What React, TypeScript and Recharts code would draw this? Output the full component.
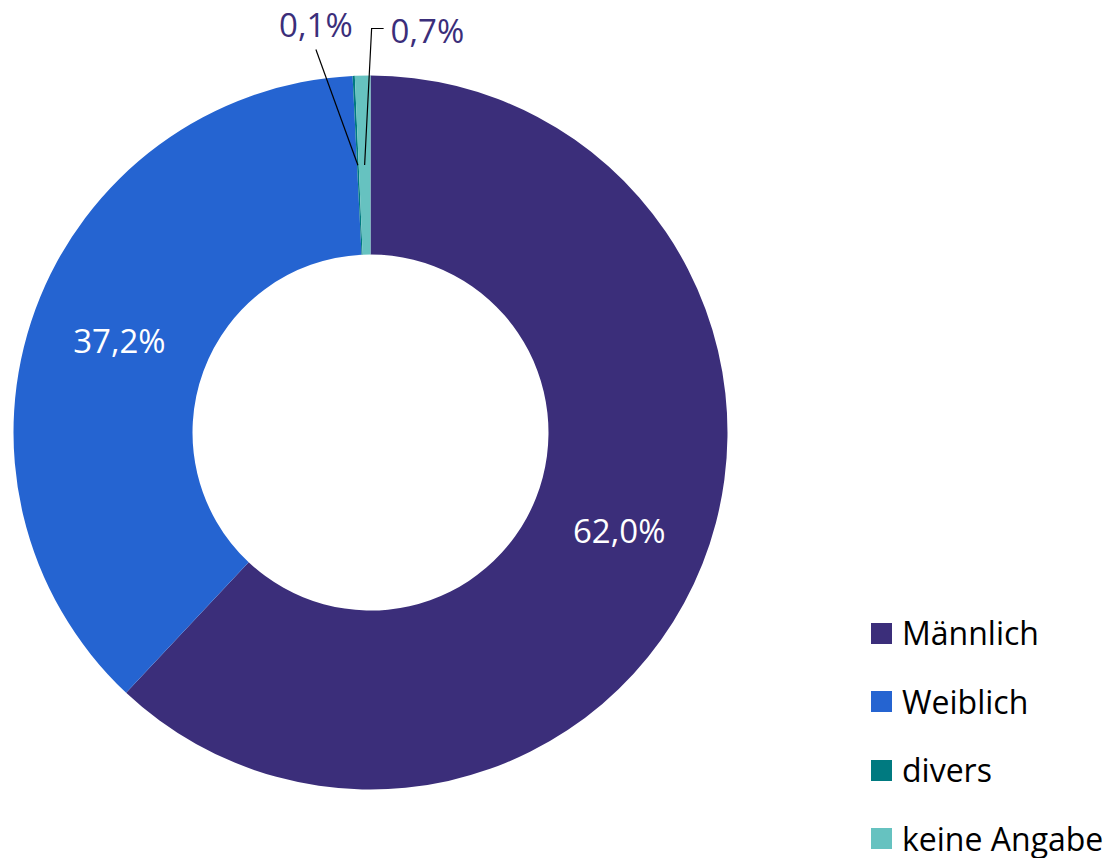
import { PieChart, Pie, Cell, Legend } from 'recharts';

const categories = ['Männlich', 'Weiblich', 'divers', 'keine Angabe'];
const shares = [62.0, 37.2, 0.1, 0.7];
const COLORS = ['#3B2E7A', '#2564D1', '#007A80', '#66C2C0'];

const FONT = '"Open Sans", sans-serif';
const LABEL_COLOR = '#3B2E7A';
const LABEL_SIZE = 33;

const chartData = categories.map((name, i) => ({ name, value: shares[i] }));

const formatShare = (v: number) => `${v.toFixed(1).replace('.', ',')}%`;

const RADIAN = Math.PI / 180;

const renderLabel = ({ cx, cy, midAngle, innerRadius, outerRadius, index, value }: any) => {
  const r = innerRadius + (outerRadius - innerRadius) / 2;
  const x = cx + r * Math.cos(-midAngle * RADIAN);
  const y = cy + r * Math.sin(-midAngle * RADIAN);
  const top = cy - outerRadius;

  if (index === 2) {
    // divers: leader line up-left, label above
    const ex = x - 42;
    const ey = top - 26;
    return (
      <g>
        <path d={`M${x},${y}L${ex},${ey}`} stroke="#000" strokeWidth={1.2} fill="none" />
        <text x={ex} y={top - 51} textAnchor="middle" dominantBaseline="central" fill={LABEL_COLOR} fontSize={LABEL_SIZE} fontFamily={FONT}>
          {formatShare(value)}
        </text>
      </g>
    );
  }
  if (index === 3) {
    // keine Angabe: leader line up, elbow to the right
    const ex = x + 7;
    const ey = top - 47;
    return (
      <g>
        <path d={`M${x},${y}L${ex},${ey}L${ex + 12},${ey}`} stroke="#000" strokeWidth={1.2} fill="none" />
        <text x={ex + 19} y={top - 45} textAnchor="start" dominantBaseline="central" fill={LABEL_COLOR} fontSize={LABEL_SIZE} fontFamily={FONT}>
          {formatShare(value)}
        </text>
      </g>
    );
  }
  return (
    <text x={x} y={y} textAnchor="middle" dominantBaseline="central" fill="#fff" fontSize={LABEL_SIZE} fontFamily={FONT}>
      {formatShare(value)}
    </text>
  );
};

const renderLegend = () => (
  <ul style={{ listStyle: 'none', margin: 0, padding: 0, fontFamily: FONT, fontSize: 32, lineHeight: '34px', color: '#000', whiteSpace: 'nowrap' }}>
    {categories.map((name, i) => (
      <li
        key={name}
        style={{ display: 'flex', alignItems: 'center', height: 34, marginBottom: i < categories.length - 1 ? 34.5 : 0 }}
      >
        <span style={{ display: 'inline-block', width: 21, height: 21, background: COLORS[i], marginRight: 10 }} />
        <span>{name}</span>
      </li>
    ))}
  </ul>
);

export default function App() {
  return (
    <div style={{ position: 'absolute', left: 0, top: 0, width: 1112, height: 858, background: '#fff' }}>
      <PieChart width={1112} height={858} margin={{ top: 0, right: 0, bottom: 0, left: 0 }}>
        <Pie
          data={chartData}
          dataKey="value"
          nameKey="name"
          cx={370.5}
          cy={432.5}
          innerRadius={178}
          outerRadius={357}
          startAngle={90}
          endAngle={-270}
          stroke="none"
          labelLine={false}
          label={renderLabel}
          isAnimationActive={false}
        >
          {chartData.map((_entry, index) => (
            <Cell key={`cell-${index}`} fill={COLORS[index % COLORS.length]} />
          ))}
        </Pie>
        <Legend
          layout="vertical"
          align="center"
          verticalAlign="middle"
          content={renderLegend}
          wrapperStyle={{ left: 871, top: 616, width: 241 }}
        />
      </PieChart>
    </div>
  );
}
